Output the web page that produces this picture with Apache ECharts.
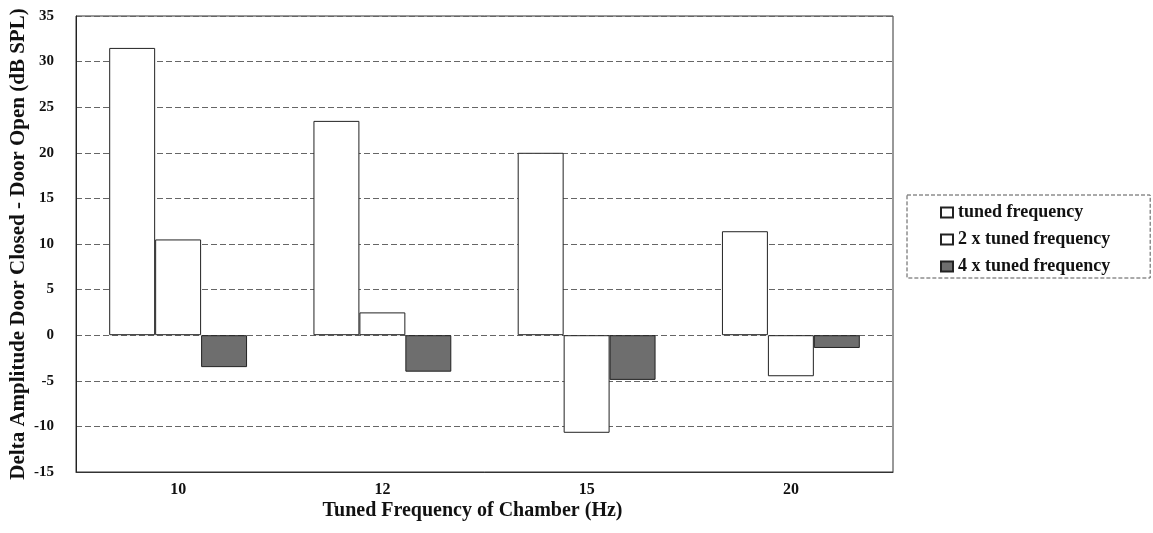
<!DOCTYPE html>
<html>
<head>
<meta charset="utf-8">
<script src="https://cdn.jsdelivr.net/npm/echarts@6/dist/echarts.min.js"></script>
<style>
	html, body { margin: 0; padding: 0; background: #fff; }
	#chamberchart { width: 1153px; height: 533px; }
</style>
</head>
<body>
<div id="chamberchart"></div>
<script>
// tuned frequency of the chamber (Hz)
var categories = ['10', '12', '15', '20'];
var seriesNames = ['tuned frequency', '2 x tuned frequency', '4 x tuned frequency'];
// delta amplitude, door closed - door open (dB SPL)
var tunedVals = [31.5, 23.5, 20, 11.4];
var twoXVals = [10.5, 2.5, -10.7, -4.5];
var fourXVals = [-3.5, -4, -4.9, -1.4];
var yTicks = [-15, -10, -5, 0, 5, 10, 15, 20, 25, 30, 35];

var font = 'Liberation Serif';
var myChart = echarts.init(document.getElementById('chamberchart'));

function barSeries(name, data, fill) {
	return {
		name: name,
		type: 'bar',
		barWidth: '22.5%',
		barGap: '0%',
		data: data,
		itemStyle: { color: fill, borderColor: '#222', borderWidth: 1 }
	};
}

myChart.setOption({
	animation: false,
	backgroundColor: '#fff',
	grid: {
		left: 76, top: 16, right: 260, bottom: 61,
		outerBoundsMode: 'none',
		show: true, borderColor: '#333', borderWidth: 1
	},
	legend: {
		orient: 'vertical',
		left: 907, top: 195,
		padding: [8, 40, 2, 33],
		itemGap: 8,
		itemWidth: 12, itemHeight: 10,
		icon: 'rect',
		borderColor: '#555', borderWidth: 1, borderType: 'dashed',
		textStyle: { fontFamily: font, fontWeight: 'bold', fontSize: 18, lineHeight: 19, color: '#111' },
		data: seriesNames
	},
	xAxis: {
		type: 'category',
		data: categories,
		name: 'Tuned Frequency of Chamber (Hz)',
		nameLocation: 'middle',
		nameGap: 29,
		nameMoveOverlap: false,
		nameTextStyle: { fontFamily: font, fontWeight: 'bold', fontSize: 20, color: '#111', padding: [0, 24, 0, 0] },
		axisLine: { onZero: false, lineStyle: { color: '#333' } },
		axisTick: { show: false },
		axisLabel: { fontFamily: font, fontWeight: 'bold', fontSize: 16, color: '#111', margin: 10 }
	},
	yAxis: {
		type: 'value',
		min: yTicks[0], max: yTicks[yTicks.length - 1], interval: 5,
		name: 'Delta Amplitude Door Closed - Door Open (dB SPL)',
		nameLocation: 'middle',
		nameGap: 47,
		nameMoveOverlap: false,
		nameTextStyle: { fontFamily: font, fontWeight: 'bold', fontSize: 21, color: '#111' },
		axisLine: { show: true, lineStyle: { color: '#222' } },
		axisTick: { show: false },
		axisLabel: { fontFamily: font, fontWeight: 'bold', fontSize: 15, color: '#111', margin: 22 },
		splitLine: { lineStyle: { color: '#666', type: [6, 3], width: 1 } }
	},
	series: [
		barSeries(seriesNames[0], tunedVals, '#ffffff'),
		barSeries(seriesNames[1], twoXVals, '#ffffff'),
		barSeries(seriesNames[2], fourXVals, '#6e6e6e')
	]
});
</script>
</body>
</html>
